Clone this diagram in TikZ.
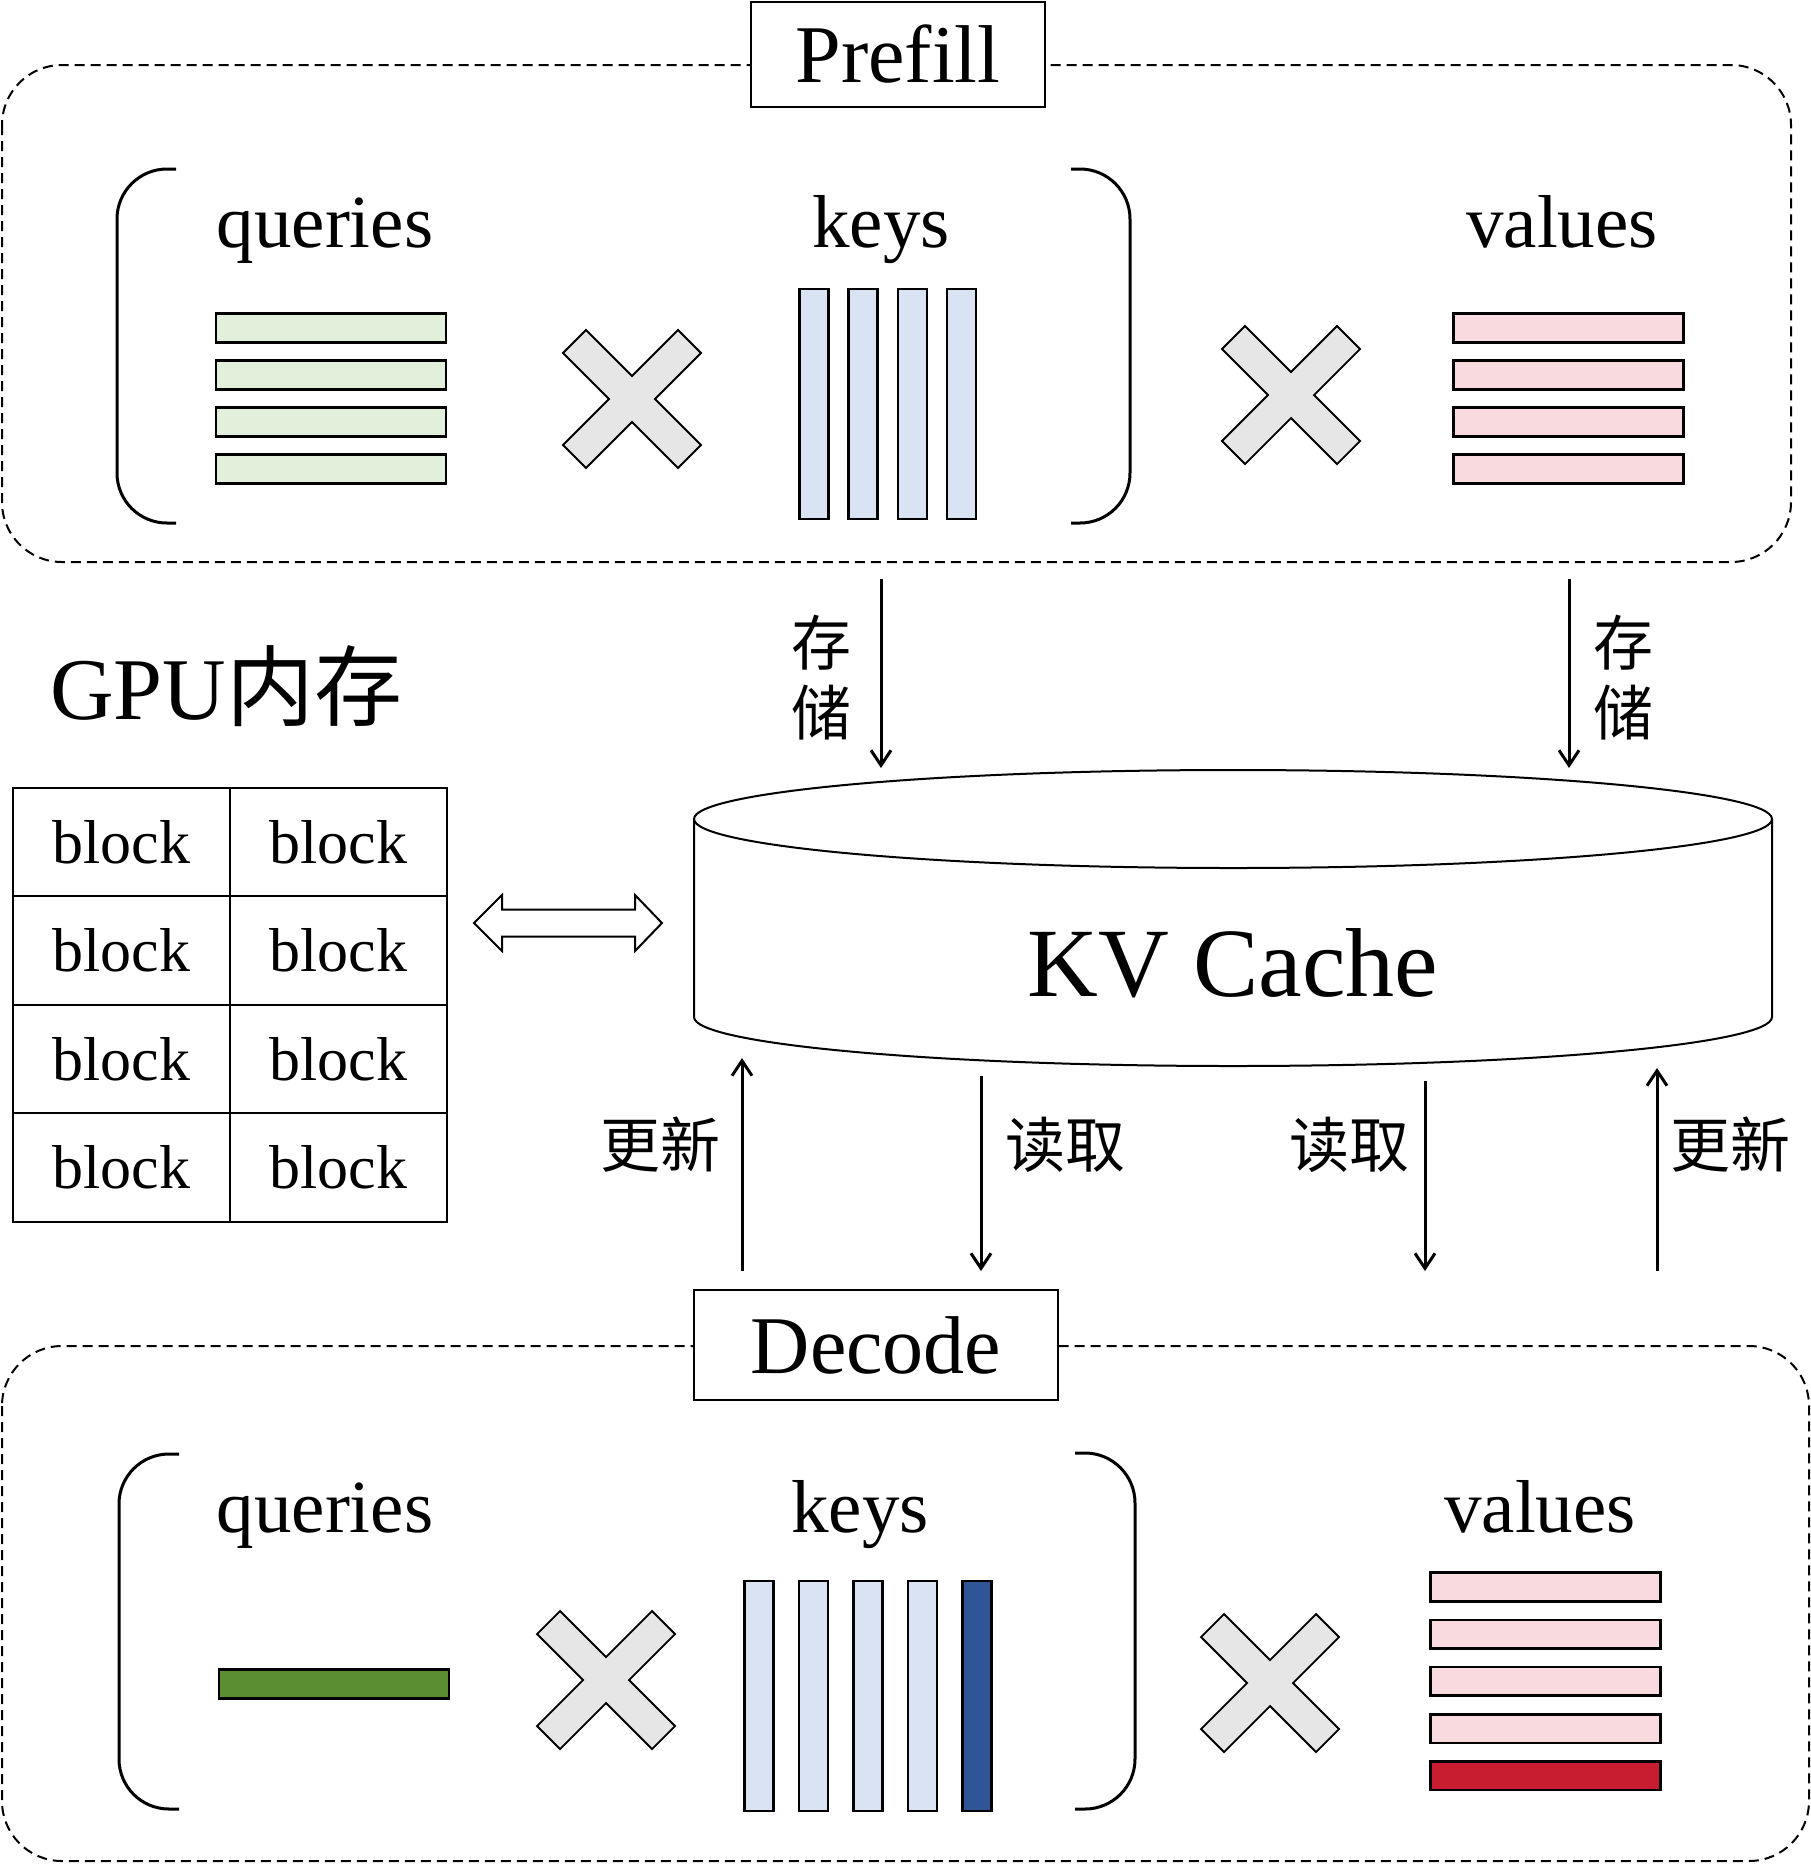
\documentclass[tikz,border=0pt]{standalone}
\usepackage{fontspec}
\setmainfont{Liberation Serif}
\newfontfamily\cjk{Noto Sans CJK SC}
\usetikzlibrary{arrows.meta, positioning}
\definecolor{qlight}{HTML}{E2EFDA}
\definecolor{klight}{HTML}{DAE3F3}
\definecolor{vlight}{HTML}{F9DADF}
\definecolor{qdark}{HTML}{5B8E32}
\definecolor{kdark}{HTML}{2F5597}
\definecolor{vdark}{HTML}{C81D31}
\definecolor{crossgray}{HTML}{E6E6E6}
\tikzstyle{arrow} = [line width=1.5pt,->,>={Straight Barb[length=7.5pt,width=10pt]}]
\tikzstyle{region} = [line width=1pt, dash pattern=on 5pt off 3pt, rounded corners=30pt]
\tikzstyle{stage} = [rectangle, draw=black, line width=1pt, fill=white, inner sep=0pt, font=\fontsize{41}{41}\selectfont]
\tikzstyle{word} = [anchor=base, inner sep=0pt, font=\fontsize{37.5}{40}\selectfont]
\tikzstyle{bar} = [rectangle, draw=black, line width=1.3pt, inner sep=0pt]
\tikzstyle{qbar} = [bar, fill=qlight, minimum width=115pt, minimum height=14.3pt]
\tikzstyle{vbar} = [bar, fill=vlight, minimum width=115pt, minimum height=14.3pt]
\tikzstyle{kbar} = [bar, fill=klight, minimum width=14.5pt, minimum height=115pt]
\tikzstyle{paren} = [line width=1.5pt, rounded corners=25pt]
\tikzstyle{crossmark} = [draw=black, line width=0.9pt, fill=crossgray]
\tikzstyle{blk} = [rectangle, draw=black, line width=1.2pt, minimum width=108.5pt, minimum height=54.25pt, font=\fontsize{31}{31}\selectfont]
\tikzstyle{cjklabel} = [align=center, inner sep=0pt, font=\cjk\fontsize{30}{35}\selectfont]
\newcommand{\mulmark}[2]{\draw[crossmark, shift={(#1,#2)}] (-46,-69) -- (0,-23) -- (46,-69) -- (69,-46) -- (23,0) -- (69,46) -- (46,69) -- (0,23) -- (-46,69) -- (-69,46) -- (-23,0) -- (-69,-46) -- cycle;}

\begin{document}
\begin{tikzpicture}[x=0.5pt, y=-0.5pt, node distance=23.5pt]
        \useasboundingbox (0,0) rectangle (1811,1865);
        % prefill
        \draw [region] (2,65) rectangle (1791,562);
        \node (prefill) [stage, minimum width=147pt, minimum height=52.5pt] at (898,54) {Prefill};
        \draw [paren] (176,169) -- (117,169) -- (117,523) -- (176,523);
        \draw [paren] (1071,169) -- (1130,169) -- (1130,523) -- (1071,523);
        \node (pq) [word] at (325,247) {queries};
        \node (pk) [word] at (881,247) {keys};
        \node (pv) [word] at (1562,247) {values};
        \node (q1) [qbar] at (331,328) {};
        \node (q2) [qbar, below of=q1] {};
        \node (q3) [qbar, below of=q2] {};
        \node (q4) [qbar, below of=q3] {};
        \node (k1) [kbar] at (814,404) {};
        \node (k2) [kbar, node distance=24.6pt, right of=k1] {};
        \node (k3) [kbar, node distance=24.6pt, right of=k2] {};
        \node (k4) [kbar, node distance=24.6pt, right of=k3] {};
        \node (v1) [vbar] at (1568.5,328) {};
        \node (v2) [vbar, below of=v1] {};
        \node (v3) [vbar, below of=v2] {};
        \node (v4) [vbar, below of=v3] {};
        \mulmark{632}{399}
        \mulmark{1291}{395}

        % gpu memory
        \node (gpu) [anchor=base west, inner sep=0pt, font=\fontsize{44}{44}\selectfont] at (50,719) {GPU{\cjk 内存}};
        \node (b11) [blk] at (121.5,842) {block};
        \node (b12) [blk, node distance=108.5pt, right of=b11] {block};
        \node (b21) [blk, node distance=54.25pt, below of=b11] {block};
        \node (b22) [blk, node distance=54.25pt, below of=b12] {block};
        \node (b31) [blk, node distance=54.25pt, below of=b21] {block};
        \node (b32) [blk, node distance=54.25pt, below of=b22] {block};
        \node (b41) [blk, node distance=54.25pt, below of=b31] {block};
        \node (b42) [blk, node distance=54.25pt, below of=b32] {block};
        \draw [line width=1pt] (474,923) -- (502,895) -- (502,909.5) -- (635,909.5) -- (635,895) -- (662,923)
                -- (635,951) -- (635,936.5) -- (502,936.5) -- (502,951) -- cycle;

        % kv cache
        \draw [line width=1pt] (1233,819) ellipse [x radius=539, y radius=49];
        \draw [line width=1pt] (694,819) -- (694,1017) arc [start angle=180, end angle=0, x radius=539, y radius=49] -- (1772,819);
        \node (cache) [anchor=base, inner sep=0pt, font=\fontsize{49}{49}\selectfont] at (1233,996) {KV Cache};

        % store / update / read
        \coordinate (s1a) at (881,579);   \coordinate (s1b) at (881,768);
        \coordinate (s2a) at (1569,579);  \coordinate (s2b) at (1569,768);
        \coordinate (u1a) at (742,1271);  \coordinate (u1b) at (742,1058);
        \coordinate (r1a) at (981,1076);  \coordinate (r1b) at (981,1271);
        \coordinate (r2a) at (1425,1081); \coordinate (r2b) at (1425,1271);
        \coordinate (u2a) at (1657,1271); \coordinate (u2b) at (1657,1068);
        \draw [arrow] (s1a) -- (s1b);
        \draw [arrow] (s2a) -- (s2b);
        \draw [arrow] (u1a) -- (u1b);
        \draw [arrow] (r1a) -- (r1b);
        \draw [arrow] (r2a) -- (r2b);
        \draw [arrow] (u2a) -- (u2b);
        \node (ls1) [cjklabel] at (821,678) {存\\储};
        \node (ls2) [cjklabel] at (1623,678) {存\\储};
        \node (lu1) [cjklabel] at (660,1145) {更新};
        \node (lr1) [cjklabel] at (1065,1145) {读取};
        \node (lr2) [cjklabel] at (1349,1145) {读取};
        \node (lu2) [cjklabel] at (1730,1145) {更新};

        % decode
        \draw [region] (2,1346) rectangle (1809,1861);
        \node (decode) [stage, minimum width=182pt, minimum height=55pt] at (876,1345) {Decode};
        \draw [paren] (179,1454) -- (119,1454) -- (119,1809) -- (179,1809);
        \draw [paren] (1075,1453) -- (1135,1453) -- (1135,1809) -- (1075,1809);
        \node (dq) [word] at (325,1532) {queries};
        \node (dk) [word] at (860,1532) {keys};
        \node (dv) [word] at (1540,1532) {values};
        \node (dq1) [qbar, fill=qdark] at (334,1684) {};
        \node (dk1) [kbar] at (759,1696) {};
        \node (dk2) [kbar, node distance=27.25pt, right of=dk1] {};
        \node (dk3) [kbar, node distance=27.25pt, right of=dk2] {};
        \node (dk4) [kbar, node distance=27.25pt, right of=dk3] {};
        \node (dk5) [kbar, fill=kdark, node distance=27.25pt, right of=dk4] {};
        \node (dv1) [vbar] at (1545.5,1587) {};
        \node (dv2) [vbar, node distance=23.6pt, below of=dv1] {};
        \node (dv3) [vbar, node distance=23.6pt, below of=dv2] {};
        \node (dv4) [vbar, node distance=23.6pt, below of=dv3] {};
        \node (dv5) [vbar, fill=vdark, node distance=23.6pt, below of=dv4] {};
        \mulmark{606}{1680}
        \mulmark{1270}{1683}
    \end{tikzpicture}
\end{document}
